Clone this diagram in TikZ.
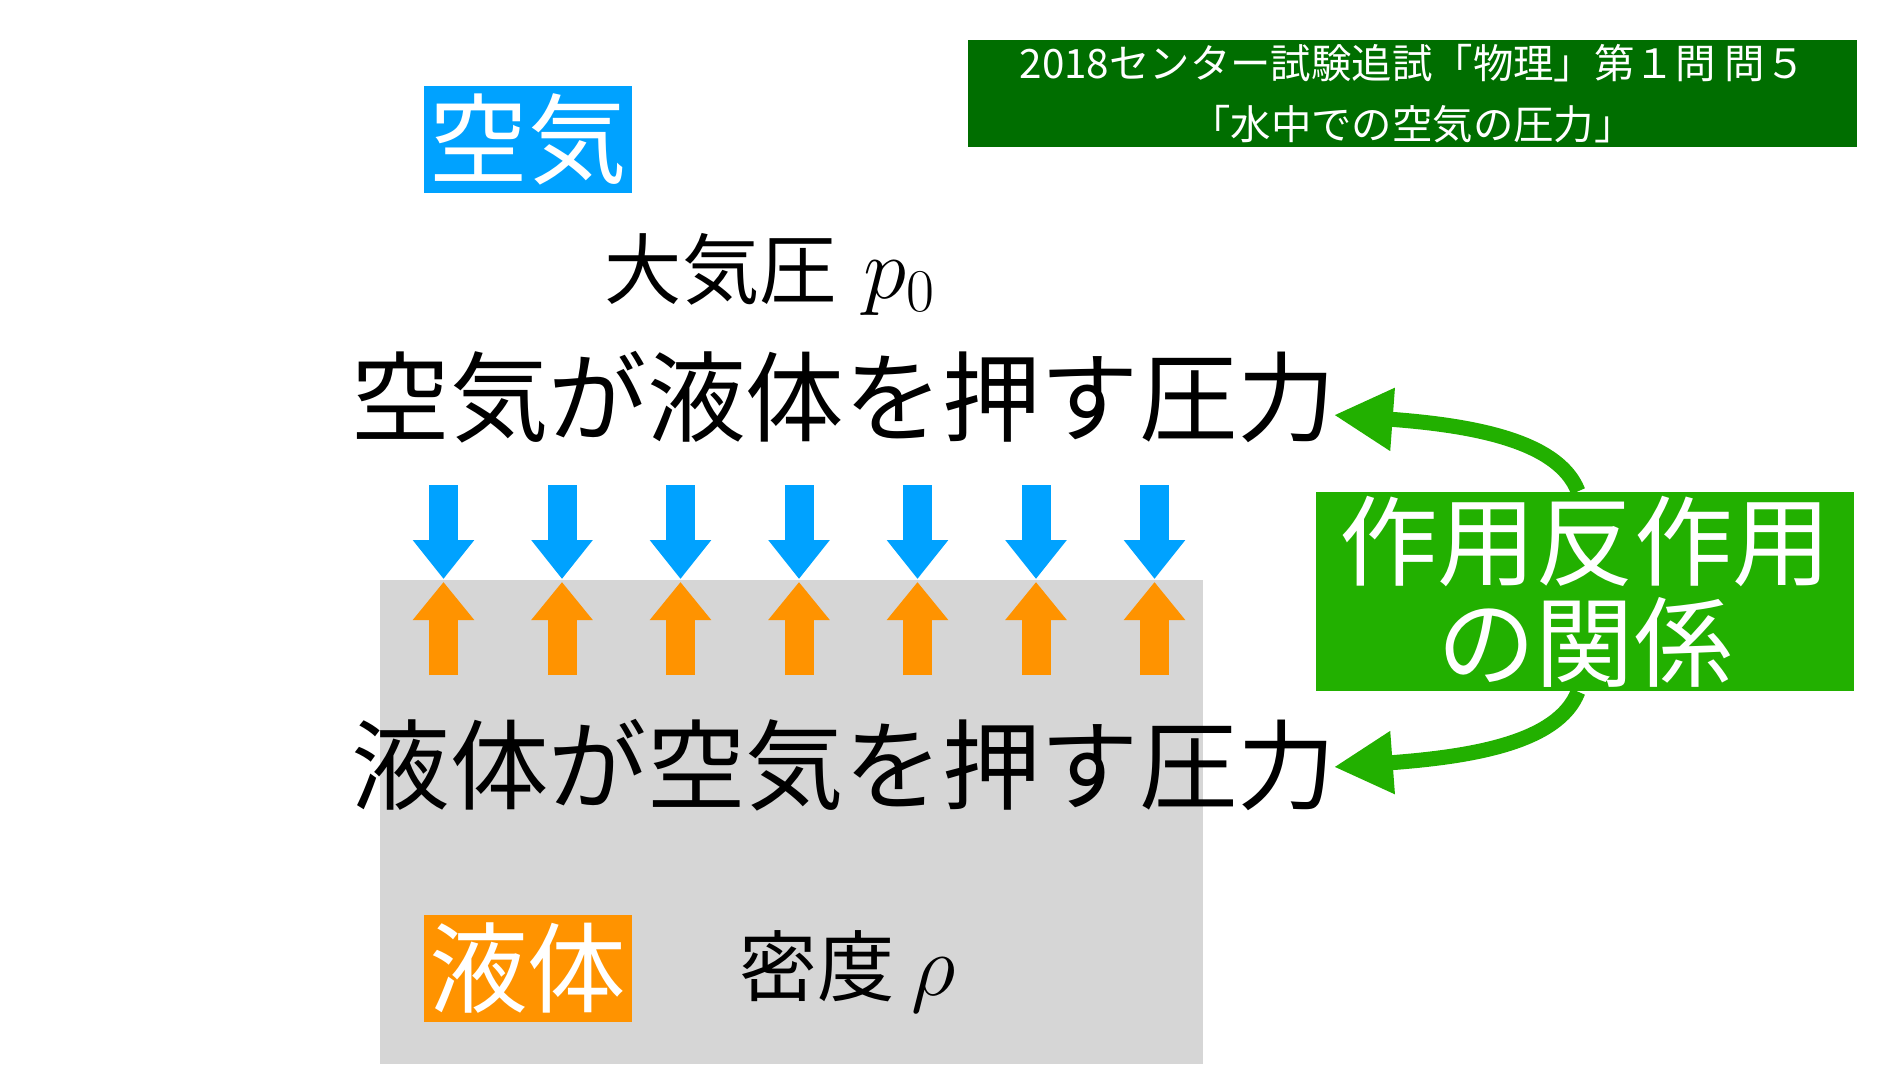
\documentclass[tikz,border=0pt]{standalone}
\usepackage{fontspec}
\setmainfont{Noto Sans CJK JP}
\usetikzlibrary{arrows.meta}
\definecolor{airblue}{RGB}{0,162,255}
\definecolor{liqorange}{RGB}{255,147,0}
\definecolor{liqgray}{RGB}{214,214,214}
\definecolor{titlegreen}{RGB}{0,110,0}
\definecolor{relgreen}{RGB}{34,176,0}
\newcommand\bigmath[1]{{\fontsize{27}{28}\selectfont$#1$}}
\begin{document}
\begin{tikzpicture}[x=0.1mm, y=-0.1mm, line join=round,
		labelbox/.style={inner sep=0pt, text=white, font=\fontsize{28}{29}\selectfont, minimum width=20.8mm, minimum height=10.7mm},
		bigtext/.style={inner sep=0pt, font=\fontsize{28}{29}\selectfont},
		midtext/.style={inner sep=0pt, font=\fontsize{22}{24}\selectfont},
		airarrow/.style={airblue, line width=2.9mm, -{Triangle[length=3.9mm,width=5.9mm]}},
		liqarrow/.style={liqorange, line width=2.9mm, -{Triangle[length=3.8mm,width=5.9mm]}},
		relarrow/.style={relgreen, line width=1.5mm, -{Triangle[length=5.9mm,width=5.9mm]}}]
	\def\xa{443.5}
	\def\dx{118.5}
	\useasboundingbox (0,0) rectangle (1898,1064);
	\fill[liqgray] (380,580) rectangle (1203,1064);
	% title
	\node[fill=titlegreen, text=white, inner sep=0pt, minimum width=88.9mm, minimum height=10.7mm, align=center, font=\fontsize{11.5}{17.5}\selectfont] (title) at (1412.5,93.5) {2018センター試験追試「物理」第１問 問５\\「水中での空気の圧力」};
	\node[labelbox, fill=airblue] (air) at (528,139.5) {空気};
	\node[midtext, anchor=base west] (p0) at (604,298) {大気圧\hspace{0.35em}\bigmath{p_0}};
	\node[bigtext] (airpush) at (844,397) {空気が液体を押す圧力};
	\node[bigtext] (liqpush) at (844,765) {液体が空気を押す圧力};
	\node[labelbox, fill=liqorange] (liq) at (527.5,968.5) {液体};
	\node[midtext, anchor=base west] (rho) at (739,995) {密度 \bigmath{\rho}};
	\node[fill=relgreen, text=white, inner sep=0pt, minimum width=53.8mm, minimum height=19.9mm, align=center, font=\fontsize{28}{28.7}\selectfont] (rel) at (1585,591.5) {作用反作用\\の関係};
	% pressure arrows
	\foreach \i in {0,...,6} {
		\draw[airarrow] (\xa+\dx*\i,485) -- (\xa+\dx*\i,579);
		\draw[liqarrow] (\xa+\dx*\i,675) -- (\xa+\dx*\i,582);
	}
	\draw[relarrow] ([xshift=-0.7mm]rel.north) .. controls +(-20,-52) and +(134,10) .. ([xshift=-0.3mm,yshift=-1.8mm]airpush.east);
	\draw[relarrow] ([xshift=-0.7mm]rel.south) .. controls +(-20,52) and +(134,-10) .. ([xshift=-0.3mm,yshift=-0.2mm]liqpush.east);
\end{tikzpicture}
\end{document}
